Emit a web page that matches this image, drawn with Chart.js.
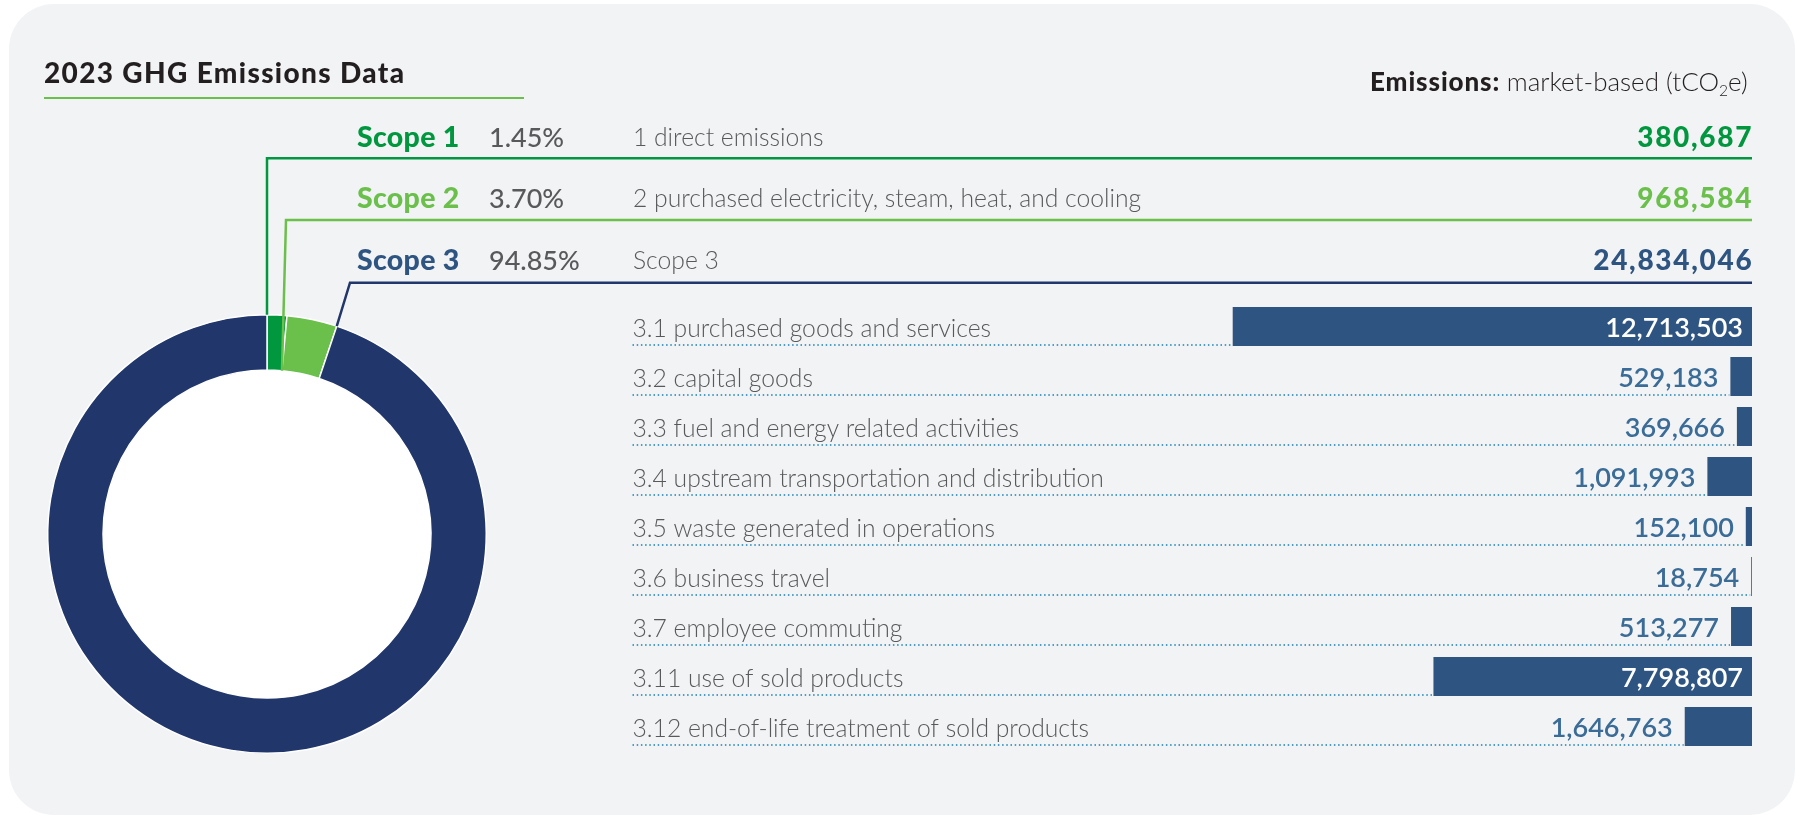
<!DOCTYPE html>
<html><head><meta charset="utf-8">
<script src="https://cdn.jsdelivr.net/npm/chart.js@4.4.1/dist/chart.umd.min.js"></script>
<style>
html,body{margin:0;padding:0;background:#ffffff;}
body{width:1802px;height:817px;position:relative;overflow:hidden;font-family:Lato,'Open Sans',sans-serif;}
#card{position:absolute;left:9px;top:4px;width:1786px;height:811px;border-radius:45px;background:#f2f3f5;}
.wrap{position:absolute;top:0;height:817px;}
.t{position:absolute;white-space:nowrap;line-height:1;}
.t sub{font-size:60%;vertical-align:-0.3em;line-height:0;}
</style></head><body>
<div id="card"></div>
<div class="wrap" style="left:0;width:1802px"><canvas id="donut"></canvas></div>
<div class="wrap" style="left:600px;width:1202px"><canvas id="bars"></canvas></div>
<div id="texts"></div>
<script>
// ---------- data ----------
const scopeNames = ['Scope 1', 'Scope 2', 'Scope 3'];
const scopeDescriptions = ['1 direct emissions', '2 purchased electricity, steam, heat, and cooling', 'Scope 3'];
const scopeValues = [380687, 968584, 24834046];
const scope3Categories = [
  '3.1 purchased goods and services',
  '3.2 capital goods',
  '3.3 fuel and energy related activities',
  '3.4 upstream transportation and distribution',
  '3.5 waste generated in operations',
  '3.6 business travel',
  '3.7 employee commuting',
  '3.11 use of sold products',
  '3.12 end-of-life treatment of sold products'
];
const scope3Values = [12713503, 529183, 369666, 1091993, 152100, 18754, 513277, 7798807, 1646763];
const xAxisMax = 13000000;

// ---------- style ----------
const C = {
  green: '#00973f', lightGreen: '#6bbf4b', navy: '#21366a', steel: '#2e5481',
  barLabel: '#3a6c97', gray: '#58595b', dots: '#4f9dc7', dark: '#231f20'
};
const scopeColors = [C.green, C.lightGreen, C.navy];
const scopeTextColors = [C.green, C.lightGreen, C.steel];

const fmt = v => v.toLocaleString('en-US');
const total = scopeValues.reduce((a, b) => a + b, 0);
const pct = scopeValues.map(v => (v / total * 100).toFixed(2) + '%');

// ---------- text helper (baseline positioning) ----------
function placeText(html, x, baseline, align, css) {
  const d = document.createElement('div');
  d.className = 't';
  d.style.cssText = css;
  d.innerHTML = html + '<span style="display:inline-block;width:0;height:0;vertical-align:baseline"></span>';
  document.getElementById('texts').appendChild(d);
  const off = d.lastChild.offsetTop;
  d.style.top = (baseline - off) + 'px';
  d.style.left = (align === 'right' ? x - d.offsetWidth : x) + 'px';
}

const rowBase = [147, 208, 270];
placeText('2023 GHG Emissions Data', 44, 83, 'left', 'font-weight:900;font-size:28px;letter-spacing:1.35px;color:' + C.dark);
placeText('<b style="font-weight:900;letter-spacing:0.9px">Emissions:</b> <span style="font-weight:300">market-based (tCO<sub>2</sub>e)</span>', 1748, 90.5, 'right', 'font-size:26px;color:' + C.dark);
scopeNames.forEach((n, i) => {
  placeText(n, 357, rowBase[i], 'left', 'font-weight:900;font-size:28.5px;letter-spacing:0.3px;color:' + scopeTextColors[i]);
  placeText(pct[i], 489, rowBase[i], 'left', 'font-weight:500;font-size:27px;color:' + C.gray);
  placeText(scopeDescriptions[i], 633, rowBase[i] - 1, 'left', 'font-weight:300;font-size:24.7px;color:' + C.gray);
  placeText(fmt(scopeValues[i]), 1753.2, rowBase[i], 'right', 'font-weight:900;font-size:28px;letter-spacing:1.7px;color:' + scopeTextColors[i]);
});
const ul = document.createElement('div');
ul.style.cssText = 'position:absolute;left:44px;top:97px;width:480px;height:2px;background:' + C.lightGreen;
document.getElementById('texts').appendChild(ul);

// ---------- doughnut ----------
const LEADER = { y: [158.3, 220, 282.7], elbow: [null, 286, 350], right: 1752, toInner: [false, true, false], width: 2.5 };
const donutPlugin = {
  id: 'donutExtras',
  beforeDatasetsDraw(chart) {
    const a = chart.getDatasetMeta(0).data[0];
    const ctx = chart.ctx;
    ctx.save();
    ctx.fillStyle = '#ffffff';
    ctx.beginPath();
    ctx.arc(a.x, a.y, a.innerRadius, 0, Math.PI * 2);
    ctx.fill();
    ctx.restore();
  },
  afterDatasetsDraw(chart) {
    const ctx = chart.ctx;
    chart.getDatasetMeta(0).data.forEach((a, i) => {
      const r = LEADER.toInner[i] ? a.innerRadius : a.outerRadius;
      const ex = a.x + Math.cos(a.startAngle) * r;
      const ey = a.y + Math.sin(a.startAngle) * r;
      const elbow = LEADER.elbow[i] === null ? ex : LEADER.elbow[i];
      ctx.save();
      ctx.strokeStyle = scopeColors[i];
      ctx.lineWidth = LEADER.width;
      ctx.lineJoin = 'miter';
      ctx.beginPath();
      ctx.moveTo(LEADER.right, LEADER.y[i]);
      ctx.lineTo(elbow, LEADER.y[i]);
      ctx.lineTo(ex, ey);
      ctx.stroke();
      ctx.restore();
    });
  }
};
new Chart(document.getElementById('donut'), {
  type: 'doughnut',
  data: { labels: scopeNames, datasets: [{ data: scopeValues, backgroundColor: scopeColors, borderColor: '#ffffff', borderWidth: 1.5 }] },
  options: {
    responsive: true, maintainAspectRatio: false, animation: false,
    cutout: '74.8%',
    layout: { padding: { left: 47, top: 314, right: 1315, bottom: 63 } },
    plugins: { legend: { display: false }, tooltip: { enabled: false } }
  },
  plugins: [donutPlugin]
});

// ---------- bars ----------
const ROW = { labelX: 32.5, labelDy: 10, dotDy: 18.5, inPad: 9, outPad: 12 };
const barPlugin = {
  id: 'rowExtras',
  beforeDatasetsDraw(chart) {
    const ctx = chart.ctx;
    chart.getDatasetMeta(0).data.forEach(b => {
      ctx.save();
      ctx.strokeStyle = C.dots;
      ctx.lineWidth = 2;
      ctx.setLineDash([1.5, 2.7]);
      ctx.beginPath();
      ctx.moveTo(ROW.labelX, b.y + ROW.dotDy);
      ctx.lineTo(b.x - 1, b.y + ROW.dotDy);
      ctx.stroke();
      ctx.restore();
    });
  },
  afterDatasetsDraw(chart) {
    const ctx = chart.ctx;
    chart.getDatasetMeta(0).data.forEach((b, i) => {
      ctx.save();
      ctx.textBaseline = 'alphabetic';
      ctx.font = '300 24.7px Lato, "Open Sans", sans-serif';
      ctx.fillStyle = C.gray;
      ctx.textAlign = 'left';
      ctx.fillText(scope3Categories[i], ROW.labelX, b.y + ROW.labelDy);
      const txt = fmt(scope3Values[i]);
      ctx.font = '600 27px Lato, "Open Sans", sans-serif';
      const w = ctx.measureText(txt).width;
      const barW = b.base - b.x;
      ctx.textAlign = 'right';
      if (barW > w + ROW.inPad * 2) {
        ctx.fillStyle = '#ffffff';
        ctx.fillText(txt, b.base - ROW.inPad, b.y + ROW.labelDy);
      } else {
        ctx.fillStyle = C.barLabel;
        ctx.fillText(txt, b.x - ROW.outPad, b.y + ROW.labelDy);
      }
      ctx.restore();
    });
  }
};
new Chart(document.getElementById('bars'), {
  type: 'bar',
  data: { labels: scope3Categories, datasets: [{ data: scope3Values, backgroundColor: C.steel, borderWidth: 0, barPercentage: 0.78, categoryPercentage: 1 }] },
  options: {
    indexAxis: 'y', responsive: true, maintainAspectRatio: false, animation: false,
    layout: { padding: { left: 621, right: 50, top: 301.5, bottom: 65.5 } },
    scales: {
      x: { min: 0, max: xAxisMax, reverse: true, display: false },
      y: { display: false }
    },
    plugins: { legend: { display: false }, tooltip: { enabled: false } }
  },
  plugins: [barPlugin]
});
</script>
</body></html>
